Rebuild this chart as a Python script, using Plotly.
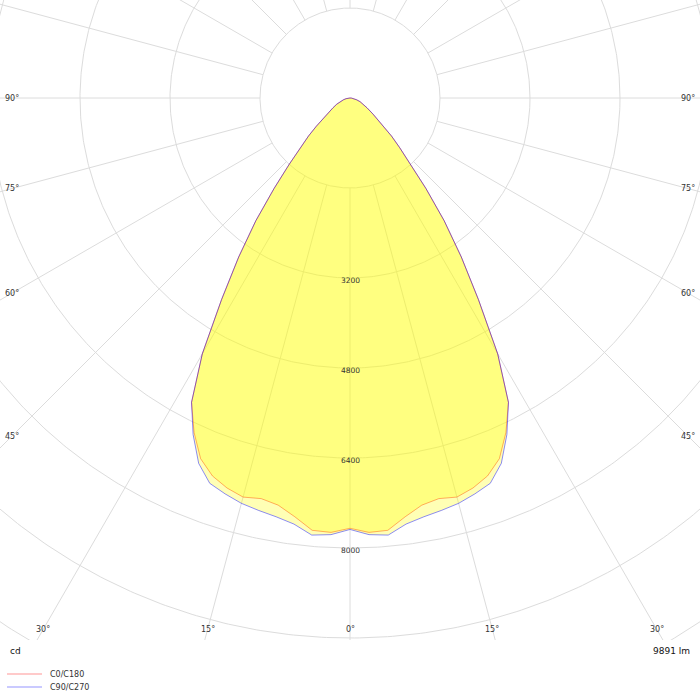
import numpy as np
import plotly.graph_objects as go

# ---- data ----
gamma = [0, 2.5, 5, 7.5, 10, 12.5, 15, 17.5, 20, 22.5, 25, 27.5, 30, 32.5, 35,
         37.5, 40, 42.5, 45, 47.5, 50, 55, 60, 65, 70, 75, 80, 85, 90]
c0_c180 = [7650, 7730, 7715, 7510, 7350, 7295, 7345, 7270, 7150, 6940, 6560, 6100, 5250, 4250, 3450,
           2750, 2100, 1600, 1250, 1000, 780, 500, 350, 260, 190, 120, 70, 30, 0]
c90_c270 = [7670, 7770, 7800, 7640, 7560, 7510, 7460, 7380, 7290, 7030, 6600, 6100, 5250, 4250, 3450,
            2750, 2100, 1600, 1250, 1000, 780, 500, 350, 260, 190, 120, 70, 30, 0]
series_names = ["C0/C180", "C90/C270"]
ring_values = [1600, 3200, 4800, 6400, 8000, 9600, 11200, 12800]
ring_labels = [3200, 4800, 6400, 8000]
angle_labels = [0, 15, 30, 45, 60, 75, 90]
flux_text = "9891 lm"
unit_text = "cd"

# ---- geometry / style ----
W, H = 700, 700
PLOT_H = 640
CX, CY = 350, 98           # pole position in pixels
S = 1600 / 90.0            # cd per pixel
grid_col = "#dcdcdc"
txt_col = "#333333"
font = "DejaVu Sans"
line_cols = ["rgba(255,0,0,0.45)", "rgba(0,0,255,0.45)"]
legend_cols = ["rgba(255,0,0,0.28)", "rgba(0,0,255,0.28)"]

xr = [-CX * S, (W - CX) * S]
yr = [-(PLOT_H - CY) * S, CY * S]

fig = go.Figure()

# grid rings
gx, gy = [], []
t = np.linspace(0, 2 * np.pi, 721)
for r in ring_values:
    gx += list(r * np.cos(t)) + [None]
    gy += list(r * np.sin(t)) + [None]
# spokes every 15 degrees starting at inner ring
for a in range(0, 360, 15):
    ar = np.radians(a)
    gx += [ring_values[0] * np.sin(ar), 30000 * np.sin(ar), None]
    gy += [-ring_values[0] * np.cos(ar), -30000 * np.cos(ar), None]
fig.add_trace(go.Scatter(x=gx, y=gy, mode="lines", line=dict(color=grid_col, width=1),
                         hoverinfo="skip", showlegend=False))


def curve(vals):
    g = np.radians(np.array(gamma, dtype=float))
    v = np.array(vals, dtype=float)
    xl = -v * np.sin(g)
    yl = -v * np.cos(g)
    xs = list(xl[::-1]) + list(-xl[1:])
    ys = list(yl[::-1]) + list(yl[1:])
    return xs, ys


for name, vals, lc in [(series_names[0], c0_c180, line_cols[0]),
                       (series_names[1], c90_c270, line_cols[1])]:
    xs, ys = curve(vals)
    fig.add_trace(go.Scatter(x=xs, y=ys, mode="lines", name=name, fill="toself",
                             fillcolor="rgba(255,255,0,0.29)", showlegend=False,
                             line=dict(color=lc, width=1), hoverinfo="skip"))

annotations = []
shapes = []
# ring labels
for r in ring_labels:
    annotations.append(dict(x=0, y=-r, xref="x", yref="y", text=str(r), showarrow=False,
                            yshift=-2, font=dict(size=7.5, color=txt_col, family=font)))
# angle labels at the edge of an inset box
bx = (CX - 12) * S
by = -(629 - CY) * S
for a in angle_labels:
    for side in ([1] if a == 0 else [-1, 1]):
        ar = np.radians(a)
        sx, sy = side * np.sin(ar), -np.cos(ar)
        cands = []
        if abs(sx) > 1e-9:
            cands.append(bx / abs(sx))
        if sy < -1e-9:
            cands.append(by / sy)
        tt = min(cands)
        annotations.append(dict(x=sx * tt, y=sy * tt, xref="x", yref="y", text=f"{a}°",
                                showarrow=False, xanchor="center", yanchor="middle",
                                font=dict(size=8, color=txt_col, family=font)))
annotations.append(dict(x=8 / W, y=-11 / PLOT_H, xref="paper", yref="paper", text=unit_text,
                        showarrow=False, xanchor="left", yanchor="middle",
                        font=dict(size=9, color="#111111", family=font)))
annotations.append(dict(x=692 / W, y=-11 / PLOT_H, xref="paper", yref="paper", text=flux_text,
                        showarrow=False, xanchor="right", yanchor="middle",
                        font=dict(size=9, color="#111111", family=font)))

# legend (line samples + names)
for i, name in enumerate(series_names):
    yy = -(674 + 13 * i - PLOT_H) / PLOT_H
    shapes.append(dict(type="line", xref="paper", yref="paper", x0=7 / W, x1=42 / W, y0=yy, y1=yy,
                       line=dict(color=legend_cols[i], width=1.5)))
    annotations.append(dict(x=48 / W, y=yy, xref="paper", yref="paper", text=name,
                            showarrow=False, xanchor="left", yanchor="middle",
                            font=dict(size=8, color=txt_col, family=font)))

fig.update_layout(
    width=W, height=H,
    margin=dict(l=0, r=0, t=0, b=H - PLOT_H, pad=0),
    paper_bgcolor="white", plot_bgcolor="white",
    xaxis=dict(range=xr, visible=False, showgrid=False, zeroline=False, fixedrange=True),
    yaxis=dict(range=yr, visible=False, showgrid=False, zeroline=False, fixedrange=True),
    showlegend=False,
    annotations=annotations,
    shapes=shapes,
)

fig.write_html("out.html", config={"displayModeBar": False},
               post_script=("document.documentElement.style.overflow='hidden';"
                            "document.body.style.margin='0';"
                            "document.body.style.overflow='hidden';"))
